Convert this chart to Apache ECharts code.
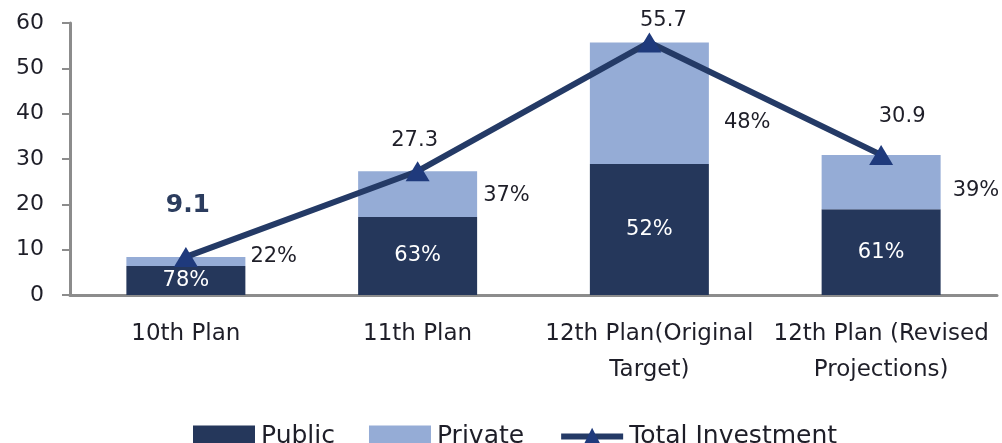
<!DOCTYPE html>
<html><head><meta charset="utf-8">
<script src="https://cdn.jsdelivr.net/npm/echarts@6/dist/echarts.min.js"></script>
<style>html,body{margin:0;padding:0;background:#fff}#c{width:1002px;height:443px}</style>
</head><body><div id="c"></div>
<script>
const categories = ['10th Plan', '11th Plan', '12th Plan(Original\nTarget)', '12th Plan (Revised\nProjections)'];
const publicValues = [6.4, 17.2, 28.9, 18.9];
const privateValues = [2.0, 10.1, 26.8, 12.0];
const totalValues = [8.4, 27.3, 55.7, 30.9];
const totalLabels = ['9.1', '27.3', '55.7', '30.9'];
const publicPct = ['78%', '63%', '52%', '61%'];
const privatePct = ['22%', '37%', '48%', '39%'];
const yTicks = [0, 10, 20, 30, 40, 50, 60];

const FONT = '"DejaVu Sans", sans-serif';
const TXT = '#1e1e28';
const totalOffsets = [[2, -51], [-3, -31], [14, -22], [21, -38]];
const privOffsets = [[0, -5], [1, 1], [10, 19], [7, 8]];

const chart = echarts.init(document.getElementById('c'), null, {renderer: 'canvas'});
chart.setOption({
  animation: false,
  grid: {left: 70, right: 5, top: 23, bottom: 148, containLabel: false},
  legend: {
    left: 188, top: 419,
    itemWidth: 62, itemHeight: 22, itemGap: 34,
    textStyle: {fontFamily: FONT, fontSize: 25, lineHeight: 22, color: TXT, padding: [0, 0, 0, 1]},
    data: [
      {name: 'Public', icon: 'rect', itemStyle: {borderWidth: 0}},
      {name: 'Private', icon: 'rect', itemStyle: {borderWidth: 0}},
      {name: 'Total Investment', lineStyle: {width: 6, color: '#243a66'}}
    ]
  },
  xAxis: {
    type: 'category', data: categories,
    axisLine: {lineStyle: {color: '#8c8c8c', width: 3}},
    axisTick: {show: false},
    axisLabel: {fontFamily: FONT, fontSize: 23, color: TXT, margin: 21, lineHeight: 36, interval: 0}
  },
  yAxis: {
    type: 'value', min: 0, max: 60, interval: 10,
    axisLine: {show: true, lineStyle: {color: '#8c8c8c', width: 3}},
    axisTick: {show: true, length: 8, lineStyle: {color: '#8c8c8c', width: 2}},
    splitLine: {show: false},
    axisLabel: {fontFamily: FONT, fontSize: 22, color: TXT, margin: 26,
      formatter: v => yTicks.includes(v) ? String(v) : ''}
  },
  series: [
    {
      name: 'Public', type: 'bar', stack: 'inv', barWidth: 119,
      itemStyle: {color: '#25375b'},
      data: publicValues,
      label: {show: true, position: 'inside', fontFamily: FONT, fontSize: 21, color: '#ffffff',
        formatter: p => publicPct[p.dataIndex]}
    },
    {
      name: 'Private', type: 'bar', stack: 'inv', barWidth: 119,
      itemStyle: {color: '#95acd6'},
      data: privateValues.map((v, i) => ({value: v, label: {offset: privOffsets[i]}})),
      label: {show: true, position: 'right', distance: 5, fontFamily: FONT, fontSize: 21, color: TXT,
        formatter: p => privatePct[p.dataIndex]}
    },
    {
      name: 'Total Investment', type: 'line', z: 5,
      symbol: 'triangle', symbolSize: [24, 20],
      lineStyle: {color: '#243a66', width: 6},
      itemStyle: {color: '#1f3a7c'},
      data: totalValues.map((v, i) => ({
        value: v,
        label: i === 0
          ? {offset: totalOffsets[i], fontWeight: 'bold', fontSize: 25, color: '#2b3c5e'}
          : {offset: totalOffsets[i]}
      })),
      label: {show: true, position: 'inside', fontFamily: FONT, fontSize: 21, color: TXT,
        formatter: p => totalLabels[p.dataIndex]}
    }
  ]
});
</script></body></html>
